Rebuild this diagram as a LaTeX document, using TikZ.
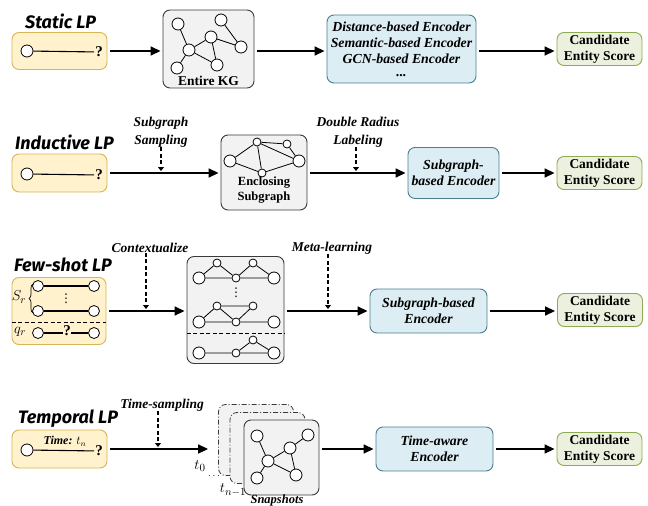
\documentclass[tikz,border=0pt]{standalone}
\usepackage{fontspec}
\setmainfont{Liberation Serif}
\newfontfamily\titlefont{Fira Sans}
\newfontfamily\symfont{DejaVu Sans}
\usetikzlibrary{arrows.meta,decorations.pathreplacing}
\definecolor{yfill}{HTML}{FFF2CC}
\definecolor{ydraw}{HTML}{D6B656}
\definecolor{gfill}{HTML}{F2F2F2}
\definecolor{gdraw}{HTML}{3A3A3A}
\definecolor{bfill}{HTML}{DCEDF3}
\definecolor{bdraw}{HTML}{4A7F90}
\definecolor{cfill}{HTML}{EBF1DE}
\definecolor{cdraw}{HTML}{8FAA52}
\begin{document}
\begin{tikzpicture}[x=1pt,y=-1pt,
  box/.style={rounded corners=7pt, line width=0.9pt, inner sep=0pt, align=center},
  ybox/.style={box, draw=ydraw, fill=yfill},
  gbox/.style={box, draw=gdraw, fill=gfill},
  bbox/.style={box, draw=bdraw, fill=bfill, font=\fontsize{13.8}{16}\selectfont\bfseries\itshape},
  cbox/.style={box, draw=cdraw, fill=cfill, minimum width=85pt, minimum height=33pt, font=\fontsize{13.5}{16}\selectfont\bfseries},
  gnode/.style={circle, draw, fill=white, inner sep=0pt, minimum size=12pt, line width=0.8pt},
  snode/.style={gnode, minimum size=8pt},
  arr/.style={-{Triangle[length=10pt,width=9pt]}, line width=1.6pt, shorten <=3pt, shorten >=2pt},
  darr/.style={dash pattern=on 4pt off 2.5pt, -{Triangle[length=4pt,width=6pt]}, line width=1.2pt},
  gline/.style={line width=0.8pt},
  ttl/.style={anchor=west, inner sep=0pt, font=\titlefont\fontsize{18}{20}\selectfont\bfseries\itshape},
  lbl/.style={inner sep=0pt, align=center, font=\fontsize{13.5}{18}\selectfont\bfseries\itshape},
  qm/.style={inner sep=1pt, font=\fontsize{15}{16}\selectfont\bfseries},
  vd/.style={inner sep=0pt, font=\symfont\fontsize{12}{12}\selectfont},
  sback/.style={rounded corners=7pt, draw=gdraw, fill=gfill, line width=0.8pt, dash pattern=on 5pt off 2pt on 1pt off 2pt, minimum width=75pt, minimum height=71pt, inner sep=0pt}
]
\useasboundingbox (0,0) rectangle (648,506);

% ================= Row 1: Static LP =================
\node[ttl] (t1) at (25,21) {Static LP};
\node[ybox, minimum width=95pt, minimum height=37pt] (y1) at (59.5,51) {};
\node[gnode] (y1a) at (27,51) {};
\node[qm] (y1q) at (99,52) {?};
\draw[gline, line width=1.1pt] (y1a) -- (y1q);

\node[gbox, minimum width=91pt, minimum height=78pt] (kg) at (208.5,49) {};
\node[gnode] (k1) at (178,24) {};
\node[gnode] (k2) at (221,20) {};
\node[gnode] (k3) at (211,37) {};
\node[gnode] (k4) at (189,50) {};
\node[gnode] (k5) at (241,47) {};
\node[gnode] (k6) at (217,65) {};
\node[gnode] (k7) at (177,68) {};
\draw[gline] (k1)--(k4) (k2)--(k5) (k3)--(k4) (k3)--(k5) (k3)--(k6) (k4)--(k6) (k4)--(k7);
\node[inner sep=0pt, font=\fontsize{13.5}{14}\selectfont\bfseries] (kgt) at (208.5,81) {Entire KG};

\node[bbox, minimum width=149pt, minimum height=68pt] (e1) at (401.5,49)
  {Distance-based Encoder\\Semantic-based Encoder\\GCN-based Encoder\\[-3pt]\textbf{...}};
\node[cbox] (c1) at (599.5,49) {Candidate\\Entity Score};

\draw[arr] (y1.east) -- (y1.east -| kg.west);
\draw[arr] (kg.east |- y1.east) -- (kg.east |- y1.east -| e1.west);
\draw[arr] (e1.east |- y1.east) -- (e1.east |- y1.east -| c1.west);

% ================= Row 2: Inductive LP =================
\node[ttl] (t2) at (15,142) {Inductive LP};
\node[ybox, minimum width=95pt, minimum height=38pt] (y2) at (59.5,173) {};
\node[gnode] (y2a) at (27,174) {};
\node[qm] (y2q) at (99,175) {?};
\draw[gline, line width=1.1pt] (y2a) -- (y2q);

\node[gbox, minimum width=86pt, minimum height=75pt] (en) at (264,172.5) {};
\node[gnode] (n1) at (230,161) {};
\node[snode] (n2) at (257,142) {};
\node[snode] (n3) at (287,144) {};
\node[gnode] (n4) at (299,161) {};
\node[snode] (n5) at (262,173) {};
\draw[gline] (n1)--(n2) (n2)--(n3) (n3)--(n4) (n1)--(n5) (n5)--(n4) (n2)--(n5) (n2)--(n4);
\node[inner sep=0pt, align=center, font=\fontsize{12.5}{15}\selectfont\bfseries] (ent) at (264,190) {Enclosing\\Subgraph};

\node[bbox, minimum width=91pt, minimum height=51pt] (e2) at (453.5,173) {Subgraph-\\based Encoder};
\node[cbox] (c2) at (599.5,173) {Candidate\\Entity Score};

\draw[arr] (y2.east) -- (y2.east -| en.west);
\draw[arr] (en.east |- y2.east) -- (en.east |- y2.east -| e2.west);
\draw[arr] (e2.east) -- (c2.west);

\node[lbl] (l2a) at (161,132) {Subgraph\\Sampling};
\coordinate (p2a) at (161,171);
\draw[darr] (l2a.south -| p2a) -- (p2a);
\node[lbl] (l2b) at (358,132) {Double Radius\\Labeling};
\coordinate (p2b) at (356,171);
\draw[darr] (l2b.south -| p2b) -- (p2b);

% ================= Row 3: Few-shot LP =================
\node[ttl] (t3) at (14,265) {Few-shot LP};
\node[ybox, minimum width=94pt, minimum height=67pt] (y3) at (59,311) {};
\node[gnode, minimum size=11pt] (f1a) at (38,286) {};
\node[gnode, minimum size=11pt] (f1b) at (94,286) {};
\node[gnode, minimum size=11pt] (f2a) at (38,311) {};
\node[gnode, minimum size=11pt] (f2b) at (94,311) {};
\node[gnode, minimum size=11pt] (f3a) at (38,333) {};
\node[gnode, minimum size=11pt] (f3b) at (94,333) {};
\draw[gline, line width=1.1pt] (f1a)--(f1b) (f2a)--(f2b) (f3a)--(f3b);
\node[vd] (fvd) at (66,299) {⋮};
\node[qm, fill=yfill, inner sep=0.5pt] (f3q) at (67,331) {?};
\draw[dash pattern=on 4pt off 2.5pt, line width=1pt] (y3.west |- 0,322) -- (y3.east |- 0,322);
\node[inner sep=0pt, font=\fontsize{15}{16}\selectfont] (sr) at (19,297) {$S_r$};
\draw[decorate, decoration={brace, amplitude=4pt}, line width=0.7pt] (33,313) -- (33,284);
\node[inner sep=0pt, font=\fontsize{15}{16}\selectfont] (qr) at (20,332) {$q_r$};

\node[gbox, minimum width=97pt, minimum height=107pt] (fs) at (235.5,310) {};
% graph 1
\node[gnode] (a1) at (199,278) {};
\node[snode] (a2) at (217,263) {};
\node[snode] (a3) at (236,278) {};
\node[snode] (a4) at (253,263) {};
\node[gnode] (a5) at (274,278) {};
\draw[gline] (a1)--(a2) (a2)--(a3) (a3)--(a4) (a4)--(a5) (a1)--(a3) (a3)--(a5);
\node[vd] (avd) at (236,293) {⋮};
% graph 2
\node[gnode] (b1) at (199,322) {};
\node[snode] (b2) at (217,306) {};
\node[snode] (b3) at (236,322) {};
\node[snode] (b4) at (253,306) {};
\node[gnode] (b5) at (274,322) {};
\draw[gline] (b1)--(b2) (b2)--(b4) (b2)--(b3) (b3)--(b4) (b1)--(b3) (b3)--(b5);
\draw[dash pattern=on 4pt off 2.5pt, line width=1pt] (fs.west |- 0,333) -- (fs.east |- 0,333);
% graph 3
\node[gnode] (d1) at (199,353) {};
\node[snode] (d2) at (236,353) {};
\node[snode] (d3) at (253,340) {};
\node[gnode] (d4) at (274,353) {};
\draw[gline] (d1)--(d2) (d2)--(d4) (d2)--(d3) (d3)--(d4);

\node[bbox, minimum width=117pt, minimum height=44pt] (e3) at (428.5,311) {Subgraph-based\\Encoder};
\node[cbox] (c3) at (600,310) {Candidate\\Entity Score};

\draw[arr] (y3.east) -- (y3.east -| fs.west);
\draw[arr] (fs.east |- y3.east) -- (fs.east |- y3.east -| e3.west);
\draw[arr] (e3.east) -- (e3.east -| c3.west);

\node[lbl] (l3a) at (150,248) {Contextualize};
\coordinate (p3a) at (146,309);
\draw[darr] (l3a.south -| p3a) -- (p3a);
\node[lbl] (l3b) at (332,248) {Meta-learning};
\coordinate (p3b) at (328,309);
\draw[darr] (l3b.south -| p3b) -- (p3b);

% ================= Row 4: Temporal LP =================
\node[ttl] (t4) at (18,419) {Temporal LP};
\node[ybox, minimum width=95pt, minimum height=38pt] (y4) at (59.5,449) {};
\node[gnode] (y4a) at (27,450) {};
\node[qm] (y4q) at (99,451) {?};
\draw[gline, line width=1.1pt] (y4a) -- (y4q);
\node[inner sep=0pt, font=\fontsize{12}{12}\selectfont\bfseries\itshape] (y4t) at (65,441) {Time: $t_n$};

\node[sback] (sb) at (256,440) {};
\node[sback] (sm) at (267.5,448) {};
\node[gbox, minimum width=75pt, minimum height=75pt] (sf) at (281.5,457.5) {};
\node[gnode] (h1) at (257,436) {};
\node[gnode] (h2) at (308,435) {};
\node[gnode] (h3) at (290,448) {};
\node[gnode] (h4) at (268,461) {};
\node[gnode] (h5) at (296,475) {};
\node[gnode] (h6) at (257,478) {};
\draw[gline] (h1)--(h4) (h2)--(h3) (h3)--(h4) (h3)--(h5) (h4)--(h5) (h4)--(h6);
\node[inner sep=0pt, font=\fontsize{15}{16}\selectfont] (st0) at (200,466) {$t_0$};
\node[inner sep=0pt, font=\fontsize{10}{10}\selectfont] (sdots) at (214,476) {$\cdots$};
\node[inner sep=0pt, font=\fontsize{15}{16}\selectfont] (stn) at (233,490) {$t_{n-1}$};
\node[inner sep=0pt, font=\fontsize{12.5}{14}\selectfont\bfseries\itshape] (snp) at (277,500) {Snapshots};

\node[bbox, minimum width=117pt, minimum height=44pt] (e4) at (434.5,449) {Time-aware\\Encoder};
\node[cbox] (c4) at (599.5,449) {Candidate\\Entity Score};

\draw[arr, shorten >=10pt] (y4.east) -- (y4.east -| sb.west);
\draw[arr] (sf.east |- e4.west) -- (e4.west);
\draw[arr] (e4.east) -- (c4.west);

\node[lbl] (l4a) at (162,405) {Time-sampling};
\coordinate (p4a) at (158,447);
\draw[darr] (l4a.south -| p4a) -- (p4a);
\end{tikzpicture}
\end{document}
